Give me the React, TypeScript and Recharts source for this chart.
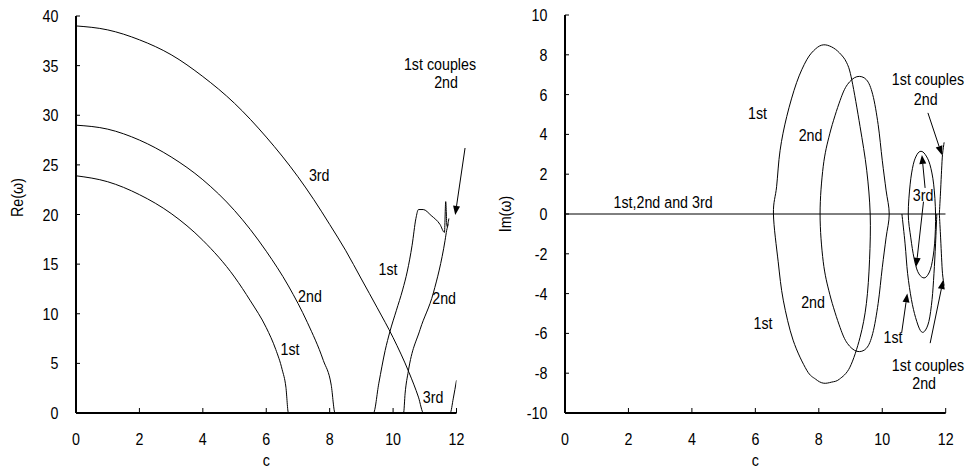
import React from 'react';
import { LineChart, Line, XAxis, YAxis, ReferenceDot, ReferenceLine, Label } from 'recharts';

const FONT = '"Liberation Sans", Arial, sans-serif';
const FS = 17;
const SX = 0.84;

// ---------- tick labels ----------
const cTicks = [0, 2, 4, 6, 8, 10, 12];
const reTicks = [0, 5, 10, 15, 20, 25, 30, 35, 40];
const imTicks = [-10, -8, -6, -4, -2, 0, 2, 4, 6, 8, 10];

type P = [number, number | null];

// ---------- Re(omega) series: [c, value] ----------
const re1st: P[] = [
  [0, 23.9], [1, 23.3], [2, 22.0], [3, 20.1], [4, 17.4], [5, 13.7], [5.5, 11.3], [6, 8.6],
  [6.3, 6.4], [6.5, 4.4], [6.62, 2.6], [6.7, 0], [9.38, 0], [9.55, 3.0], [9.75, 6.3], [9.9, 8.2],
  [10.1, 10.3], [10.3, 12.4], [10.45, 14.3], [10.6, 16.9], [10.72, 19.6], [10.8, 20.5],
  [10.95, 20.5], [11.2, 19.9], [11.48, 19.0], [11.62, 18.2], [11.66, 21.3], [11.7, 18.8], [11.76, 19.6],
];
const re2nd: P[] = [
  [0, 29.0], [1, 28.6], [2, 27.5], [3, 25.8], [4, 23.5], [5, 20.4], [6, 16.3], [6.7, 12.8],
  [7.3, 9.1], [7.8, 5.3], [8.05, 2.8], [8.17, 0], [10.33, 0], [10.38, 2.0], [10.48, 4.2],
  [10.85, 8.4], [11.27, 12.1], [11.64, 17.4], [11.69, 18.4], [11.74, 19.0],
];
const re3rd: P[] = [
  [0, 39.0], [1, 38.6], [2, 37.6], [3, 36.1], [4, 33.9], [5, 31.2], [6, 27.8], [7, 23.8],
  [7.5, 21.5], [8, 19.0], [8.5, 16.4], [9, 13.5], [9.5, 10.6], [10, 7.6], [10.5, 4.1],
  [10.8, 1.6], [10.96, 0], [11.8, 0], [11.9, 1.5], [12.0, 3.3],
];

// ---------- Im(omega) series: [c, value] ----------
const imCommon: P[] = [[0, 0], [12, 0]];
const im1st: P[] = [
  [6.57, 0], [6.67, 1.37], [6.78, 3.2], [6.99, 4.9], [7.3, 6.6], [7.62, 7.75], [7.9, 8.3], [8.14, 8.5],
  [8.4, 8.4], [8.65, 8.1], [8.88, 7.6], [9.04, 6.74], [9.3, 4.4], [9.51, 2.2], [9.62, 0],
  [9.6, -2.3], [9.5, -4.5], [9.3, -6.2], [8.98, -7.7], [8.65, -8.3], [8.4, -8.45], [8.14, -8.5],
  [7.9, -8.3], [7.62, -7.85], [7.19, -6.34], [6.88, -4.33], [6.72, -2.4], [6.57, 0],
  [10.62, null], [10.62, 0], [10.72, -1.5], [10.8, -3], [10.92, -4.3], [11.05, -5.2],
  [11.2, -5.85], [11.33, -5.9], [11.47, -5.4], [11.57, -4.3], [11.63, -3], [11.68, -1.5], [11.72, 0],
];
const im2nd: P[] = [
  [8.04, 0], [8.14, 2.4], [8.35, 4.06], [8.67, 5.7], [8.9, 6.5], [9.2, 6.9], [9.5, 6.75],
  [9.7, 6.0], [9.87, 4.5], [10.0, 2.7], [10.12, 1.2], [10.22, 0], [10.12, -1.2], [10.0, -2.7],
  [9.87, -4.5], [9.7, -6.0], [9.5, -6.75], [9.2, -6.9], [8.9, -6.5], [8.67, -5.7], [8.35, -4.06],
  [8.14, -2.4], [8.04, 0],
];
const im3rd: P[] = [
  [10.82, 0], [10.88, 1.5], [10.98, 2.5], [11.1, 3.0], [11.22, 3.15], [11.35, 3.0], [11.5, 2.5],
  [11.62, 1.5], [11.68, 0], [11.65, -1.5], [11.55, -2.6], [11.42, -3.1], [11.28, -3.2],
  [11.12, -2.9], [11.0, -2.2], [10.9, -1.2], [10.82, 0],
];
const imCoupled: P[] = [
  [11.8, 0], [11.84, 1.2], [11.87, 2.2], [11.9, 3.0], [11.95, 3.6],
  [11.8, null], [11.8, 0], [11.84, -1.2], [11.87, -2.2], [11.9, -3.0], [11.95, -3.6],
];

// ---------- annotations (data coordinates) ----------
type Note = { text: string; c: number; v: number };
const reNotes: Note[] = [
  { text: '3rd', c: 7.67, v: 24.0 },
  { text: '2nd', c: 7.38, v: 11.8 },
  { text: '1st', c: 6.75, v: 6.45 },
  { text: '1st', c: 9.84, v: 14.5 },
  { text: '2nd', c: 11.61, v: 11.6 },
  { text: '3rd', c: 11.26, v: 1.6 },
  { text: '1st couples', c: 11.48, v: 35.2 },
  { text: '2nd', c: 11.67, v: 33.4 },
];
const imNotes: Note[] = [
  { text: '1st,2nd and 3rd', c: 3.09, v: 0.58 },
  { text: '1st', c: 6.07, v: 5.08 },
  { text: '2nd', c: 7.74, v: 3.98 },
  { text: '1st', c: 6.24, v: -5.49 },
  { text: '2nd', c: 7.82, v: -4.4 },
  { text: '3rd', c: 11.29, v: 0.96 },
  { text: '1st', c: 10.34, v: -6.17 },
  { text: '1st couples', c: 11.44, v: 6.79 },
  { text: '2nd', c: 11.37, v: 5.79 },
  { text: '1st couples', c: 11.44, v: -7.6 },
  { text: '2nd', c: 11.32, v: -8.5 },
];
type Arr = [number, number, number, number];
const reArrows: Arr[] = [[12.27, 26.7, 11.96, 19.96]];
const imArrows: Arr[] = [
  [11.44, 5.08, 11.88, 2.97],
  [11.35, 1.31, 11.25, 2.97],
  [11.3, 0.62, 11.07, -2.65],
  [10.61, -5.99, 10.79, -3.99],
  [11.51, -6.49, 11.92, -3.32],
];

const toData = (pts: P[]) => pts.map(([c, v]) => ({ c, v }));

// Catmull-Rom curve factory (handles loops; closed when first == last point)
const catmull = (context: any) => {
  let pts: number[][] = [];
  return {
    areaStart() {},
    areaEnd() {},
    lineStart() { pts = []; },
    point(x: number, y: number) { pts.push([+x, +y]); },
    lineEnd() {
      const n = pts.length;
      if (!n) return;
      context.moveTo(pts[0][0], pts[0][1]);
      if (n === 1) return;
      const closed = n > 3 && Math.abs(pts[0][0] - pts[n - 1][0]) < 0.5 && Math.abs(pts[0][1] - pts[n - 1][1]) < 0.5;
      for (let i = 0; i < n - 1; i++) {
        const p1 = pts[i], p2 = pts[i + 1];
        const p0 = i > 0 ? pts[i - 1] : closed ? pts[n - 2] : p1;
        const p3 = i + 2 < n ? pts[i + 2] : closed ? pts[1] : p2;
        const c1x = p1[0] + (p2[0] - p0[0]) / 6, c1y = p1[1] + (p2[1] - p0[1]) / 6;
        const c2x = p2[0] - (p3[0] - p1[0]) / 6, c2y = p2[1] - (p3[1] - p1[1]) / 6;
        context.bezierCurveTo(c1x, c1y, c2x, c2y, p2[0], p2[1]);
      }
    },
  };
};

const Txt = ({ x, y, anchor = 'middle', rotate = 0, children }: any) => (
  <text transform={`translate(${x} ${y}) rotate(${rotate}) scale(${SX} 1)`} textAnchor={anchor}
    fontSize={FS} fontFamily={FONT} fill="#000">
    {children}
  </text>
);

const YTick = (props: any) => {
  const { x, y, payload } = props;
  return (
    <g>
      <line x1={x} x2={x + 4} y1={y} y2={y} stroke="#000" strokeWidth={1} />
      <Txt x={x - 17.5} y={y + 6} anchor="end">{payload.value}</Txt>
    </g>
  );
};
const XTick = (props: any) => {
  const { x, y, payload } = props;
  return (
    <g>
      <line x1={x} x2={x} y1={y} y2={y - 5} stroke="#000" strokeWidth={1} />
      <Txt x={x} y={y + 32}>{payload.value}</Txt>
    </g>
  );
};

const NoteShape = (text: string) => (p: any) => <Txt x={p.cx} y={p.cy + 6}>{text}</Txt>;

const ArrowShape = (p: any) => {
  const { x1, y1, x2, y2 } = p;
  const a = Math.atan2(y2 - y1, x2 - x1);
  const L = 9, W = 3.5;
  const bx = x2 - L * Math.cos(a), by = y2 - L * Math.sin(a);
  const px = -Math.sin(a) * W, py = Math.cos(a) * W;
  return (
    <g>
      <line x1={x1} y1={y1} x2={bx} y2={by} stroke="#000" strokeWidth={1} />
      <polygon points={`${x2},${y2} ${bx + px},${by + py} ${bx - px},${by - py}`} fill="#000" />
    </g>
  );
};

const baseLine = {
  dataKey: 'v',
  stroke: '#000',
  strokeWidth: 1,
  dot: false,
  activeDot: false,
  isAnimationActive: false,
  connectNulls: false,
};
const reLine = { ...baseLine, type: 'monotoneX' as const };
const imLine = { ...baseLine, type: catmull as any };

const axisLine = { stroke: '#000', strokeWidth: 2 };

const YTitle = (text: string, dx: number, dy: number) => (props: any) => {
  const vb = props.viewBox;
  return <Txt x={vb.x + dx + 6} y={vb.y + vb.height / 2 + dy} rotate={-90}>{text}</Txt>;
};
const XTitle = (props: any) => {
  const vb = props.viewBox;
  return <Txt x={vb.x + vb.width / 2} y={vb.y + 53}>c</Txt>;
};

export default function App() {
  return (
    <div style={{ position: 'absolute', left: 0, top: 0, width: 974, height: 470, background: '#fff', overflow: 'hidden' }}>
      <div style={{ position: 'absolute', left: 0, top: 0 }}>
        <LineChart width={500} height={470} margin={{ top: 16, right: 43.5, bottom: 0, left: 0 }}>
          <XAxis dataKey="c" type="number" domain={[0, 12]} ticks={cTicks} interval={0} allowDataOverflow
            height={57} tickSize={0} tickMargin={0} axisLine={axisLine} tickLine={false} tick={<XTick />}>
            <Label content={<XTitle />} />
          </XAxis>
          <YAxis type="number" domain={[0, 40]} ticks={reTicks} interval={0} allowDataOverflow width={76}
            tickSize={0} tickMargin={0} axisLine={axisLine} tickLine={false} tick={<YTick />}>
            <Label content={YTitle('Re(ω)', 16.5, -17)} />
          </YAxis>
          <Line data={toData(re1st)} {...reLine} />
          <Line data={toData(re2nd)} {...reLine} />
          <Line data={toData(re3rd)} {...reLine} />
          {reNotes.map((n, i) => (
            <ReferenceDot key={'rn' + i} x={n.c} y={n.v} r={0} ifOverflow="visible" shape={NoteShape(n.text)} />
          ))}
          {reArrows.map((a, i) => (
            <ReferenceLine key={'ra' + i} segment={[{ x: a[0], y: a[1] }, { x: a[2], y: a[3] }]}
              ifOverflow="visible" shape={ArrowShape} />
          ))}
        </LineChart>
      </div>
      <div style={{ position: 'absolute', left: 480, top: 0 }}>
        <LineChart width={494} height={470} margin={{ top: 15, right: 28.3, bottom: 0, left: 0 }}>
          <XAxis dataKey="c" type="number" domain={[0, 12]} ticks={cTicks} interval={0} allowDataOverflow
            height={57} tickSize={0} tickMargin={0} axisLine={axisLine} tickLine={false} tick={<XTick />}>
            <Label content={<XTitle />} />
          </XAxis>
          <YAxis type="number" domain={[-10, 10]} ticks={imTicks} interval={0} allowDataOverflow width={85}
            tickSize={0} tickMargin={0} axisLine={axisLine} tickLine={false} tick={<YTick />}>
            <Label content={YTitle('Im(ω)', 25, 0)} />
          </YAxis>
          <Line data={toData(imCommon)} {...baseLine} type="linear" />
          <Line data={toData(im1st)} {...imLine} />
          <Line data={toData(im2nd)} {...imLine} />
          <Line data={toData(im3rd)} {...imLine} />
          <Line data={toData(imCoupled)} {...imLine} />
          {imNotes.map((n, i) => (
            <ReferenceDot key={'in' + i} x={n.c} y={n.v} r={0} ifOverflow="visible" shape={NoteShape(n.text)} />
          ))}
          {imArrows.map((a, i) => (
            <ReferenceLine key={'ia' + i} segment={[{ x: a[0], y: a[1] }, { x: a[2], y: a[3] }]}
              ifOverflow="visible" shape={ArrowShape} />
          ))}
        </LineChart>
      </div>
    </div>
  );
}
